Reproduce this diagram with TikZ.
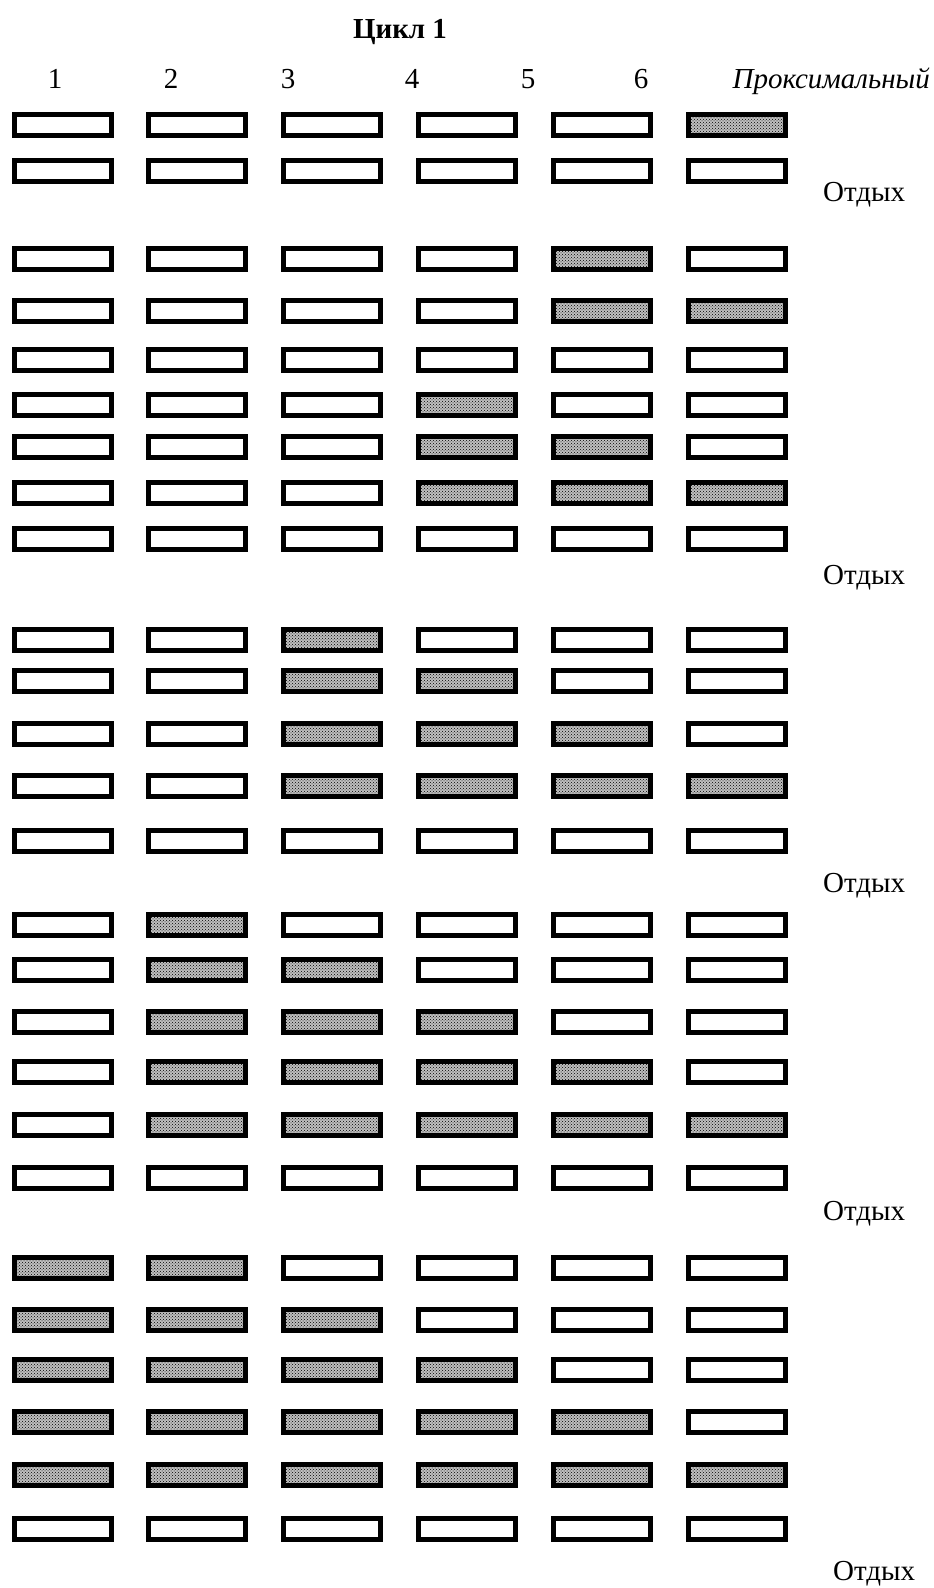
\documentclass[tikz,border=0pt]{standalone}
\usepackage{fontspec}
\setmainfont{Liberation Serif}
\usetikzlibrary{patterns}
\tikzset{
  cell/.style={draw=black, line width=5pt, rectangle, minimum width=97pt, minimum height=21pt, inner sep=0pt, fill=white},
  shadedcell/.style={cell, preaction={fill=gray!50}, pattern=crosshatch dots, pattern color=black},
  lbl/.style={font=\fontsize{29}{34}\selectfont, inner sep=0pt},
}
\begin{document}
\begin{tikzpicture}[x=1pt,y=-1pt]
\useasboundingbox (0,0) rectangle (934,1588);
\node[lbl, font=\bfseries\fontsize{29}{34}\selectfont, anchor=base] (title) at (400,38) {Цикл 1};
\foreach \t/\xx in {1/55,2/171,3/288,4/412,5/528,6/641}
  \node[lbl, anchor=base] (n\t) at (\xx,88) {\t};
\node[lbl, font=\itshape\fontsize{29}{34}\selectfont, anchor=base east] (prox) at (930,88) {Проксимальный};
\foreach \y/\f/\l [count=\r] in {125/6/6,171/0/0,259/5/5,311/5/6,360/0/0,405/4/4,447/4/5,493/4/6,539/0/0,
  640/3/3,681/3/4,734/3/5,786/3/6,841/0/0,925/2/2,970/2/3,1022/2/4,1072/2/5,1125/2/6,1178/0/0,
  1268/1/2,1320/1/3,1370/1/4,1422/1/5,1475/1/6,1529/0/0} {
  \foreach \c in {1,...,6} {
    \pgfmathtruncatemacro\sh{(\f>0)&&(\c>=\f)&&(\c<=\l)}
    \ifnum\sh=1
      \node[shadedcell] (b\r-\c) at ({62.5+134.8*(\c-1)},\y) {};
    \else
      \node[cell] (b\r-\c) at ({62.5+134.8*(\c-1)},\y) {};
    \fi
  }
}
\node[lbl, anchor=base west] (rest1) at (823,201) {Отдых};
\node[lbl, anchor=base west] (rest2) at (823,584) {Отдых};
\node[lbl, anchor=base west] (rest3) at (823,892) {Отдых};
\node[lbl, anchor=base west] (rest4) at (823,1220) {Отдых};
\node[lbl, anchor=base west] (rest5) at (833,1580) {Отдых};
\end{tikzpicture}
\end{document}
